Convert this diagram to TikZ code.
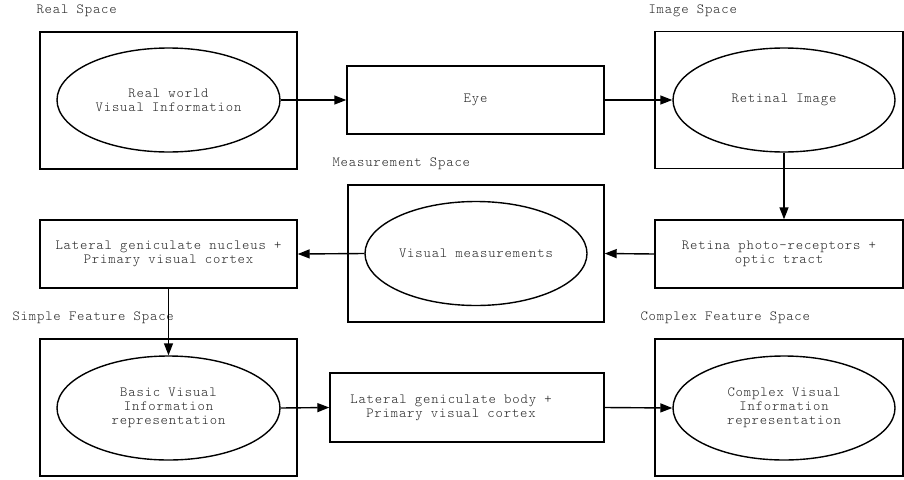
\documentclass[tikz,border=0pt]{standalone}
\usepackage{fontspec}
\setmonofont{Latin Modern Mono Light}[LetterSpace=6]
\usetikzlibrary{arrows.meta,shapes.geometric}
\begin{document}
\begin{tikzpicture}[x=1pt,y=-1pt,
  txt/.style={font=\ttfamily\fontsize{14}{14}\selectfont, text=black!85, align=center},
  spacebox/.style={draw, line width=1.4pt, minimum width=257pt, minimum height=137pt, inner sep=0pt},
  stagebox/.style={draw, line width=1.4pt, inner sep=0pt, txt},
  blob/.style={draw, ellipse, line width=1.4pt, inner sep=0pt, minimum width=223pt, minimum height=104pt, txt},
  flow/.style={line width=1.4pt, -{Triangle[length=12pt,width=9pt]}}
]
\useasboundingbox (0,0) rectangle (904,479);

% space frames and their captions
\node[spacebox] (realsp) at (168.5,100.5) {};
\node[spacebox, minimum width=248pt] (imgsp) at (779,100) {};
\node[spacebox, minimum width=256pt] (meassp) at (476,253.5) {};
\node[spacebox] (simplesp) at (168.5,407.5) {};
\node[spacebox, minimum width=248pt] (complexsp) at (779,407.5) {};

\node[txt, anchor=west] (realcap) at (33,11) {Real Space};
\node[txt, anchor=west] (imgcap) at (645,11) {Image Space};
\node[txt, anchor=west] (meascap) at (329,164) {Measurement Space};
\node[txt, anchor=west] (simplecap) at (9,318) {Simple Feature Space};
\node[txt, anchor=west] (complexcap) at (637,318) {Complex Feature Space};

% representations
\node[blob] (real) at (168.5,100) {Real world\\Visual Information};
\node[blob, minimum width=222pt] (retimg) at (784,100) {Retinal Image};
\node[blob, minimum width=222pt] (meas) at (476,253.5) {Visual measurements};
\node[blob] (basic) at (168.5,408) {Basic Visual\\Information\\representation};
\node[blob, minimum width=222pt] (complex) at (784,408) {Complex Visual\\Information\\representation};

% processing stages
\node[stagebox, minimum width=257pt, minimum height=68pt] (eye) at (475.5,100) {Eye};
\node[stagebox, minimum width=248pt, minimum height=68pt] (retina) at (779,254) {Retina photo-receptors +\\optic tract};
\node[stagebox, minimum width=257pt, minimum height=68pt] (lgn) at (168.5,254) {Lateral geniculate nucleus +\\Primary visual cortex};
\node[stagebox, minimum width=274pt, minimum height=69pt] (lgb) at (467,407.5) {};
\node[txt] (lgbtext) at (451,407.5) {Lateral geniculate body +\\Primary visual cortex};

% information flow
\draw[flow] (real.east) -- (eye.west);
\draw[flow] (eye.east) -- (retimg.west);
\draw[flow] (retimg.south) -- (retina.north -| retimg.south);
\draw[flow] (retina.west) -- (meassp.east);
\draw[flow] (meas.west) -- (lgn.east);
\draw[flow] (lgn.south) -- (basic.north);
\draw[flow] (basic.east) -- (lgb.west);
\draw[flow] (lgb.east) -- (complex.west);
\end{tikzpicture}
\end{document}
